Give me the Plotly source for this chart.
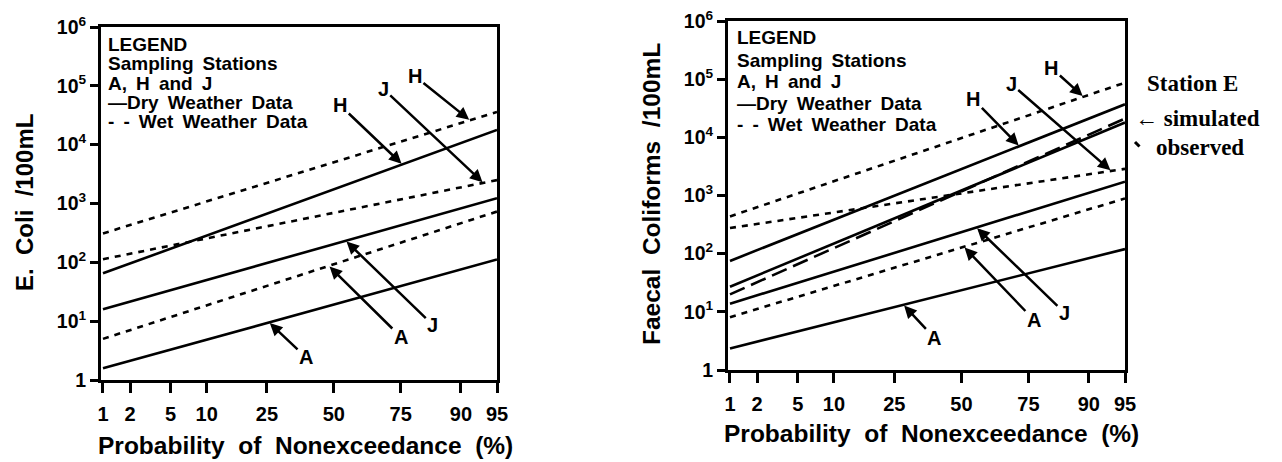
import math
from statistics import NormalDist
import plotly.graph_objects as go

nd = NormalDist()


def z(p):
    return nd.inv_cdf(p / 100.0)


# ---------------- data ----------------
prob_ticks = [1, 2, 5, 10, 25, 50, 75, 90, 95]
prob_tick_labels = ["1", "2", "5", "10", "25", "50", "75", "90", "95"]
y_tick_vals = [1, 10, 100, 1e3, 1e4, 1e5, 1e6]
y_tick_labels = ["1", "10<sup>1</sup>", "10<sup>2</sup>", "10<sup>3</sup>",
                 "10<sup>4</sup>", "10<sup>5</sup>", "10<sup>6</sup>"]

end_probs = [1, 95]  # probability (%) at the two ends of each fitted line

# E. coli (/100mL), stations A, H, J
ecoli_H_dry = [65, 17800]
ecoli_H_wet = [310, 36000]
ecoli_J_dry = [16, 1230]
ecoli_J_wet = [113, 2500]
ecoli_A_dry = [1.58, 112]
ecoli_A_wet = [5.0, 730]

# Faecal coliforms (/100mL), stations A, H, J and E
fc_H_dry = [75, 37000]
fc_H_wet = [437, 87000]
fc_J_dry = [13.8, 1730]
fc_J_wet = [276, 2870]
fc_A_dry = [2.34, 120]
fc_A_wet = [8.1, 890]
fc_E_sim = [27, 18000]
fc_E_obs = [20, 21000]

# page body has an 8px margin: the figure sits at (8, 8) in the window
OFF = 8
W, H = 1282 - OFF, 462 - OFF


def px(x):
    return (x - OFF) / W


def py(y):
    return 1 - (y - OFF) / H


def log_at(series, p):
    z0, z1 = z(end_probs[0]), z(end_probs[1])
    l0, l1 = math.log10(series[0]), math.log10(series[1])
    return l0 + (z(p) - z0) / (z1 - z0) * (l1 - l0)


def wide(s, extra="\u00a0"):
    return s.replace(" ", " " + extra)


FONT = "Liberation Sans"
fig = go.Figure()

WET = "6px,6px"
panels = [
    ("x", "y", [(ecoli_H_dry, "solid"), (ecoli_H_wet, WET), (ecoli_J_dry, "solid"),
                (ecoli_J_wet, WET), (ecoli_A_dry, "solid"), (ecoli_A_wet, WET)]),
    ("x2", "y2", [(fc_H_dry, "solid"), (fc_H_wet, WET), (fc_J_dry, "solid"),
                  (fc_J_wet, WET), (fc_A_dry, "solid"), (fc_A_wet, WET),
                  (fc_E_sim, "solid"), (fc_E_obs, "16px,7px")]),
]
for xa, ya, lines in panels:
    for vals, dash in lines:
        fig.add_trace(go.Scatter(
            x=[z(p) for p in end_probs], y=vals, mode="lines",
            line=dict(color="black", width=2.6, dash=dash),
            xaxis=xa, yaxis=ya, showlegend=False, hoverinfo="skip"))

xr = [z(1) - 0.02, z(95)]
axis_common = dict(showline=True, linewidth=3, linecolor="black", mirror=True,
                   showgrid=False, zeroline=False, ticks="outside",
                   tickwidth=3, tickcolor="black", automargin=False,
                   ticklabeloverflow="allow")

xcommon = dict(axis_common, range=xr, tickmode="array",
               tickvals=[z(p) for p in prob_ticks], ticktext=prob_tick_labels,
               ticklen=10, ticklabelstandoff=4,
               tickfont=dict(family=FONT, size=20, color="black", weight="bold"))
ycommon = dict(axis_common, type="log", range=[0, 6], tickmode="array",
               tickvals=y_tick_vals, ticktext=y_tick_labels, ticklen=8,
               tickfont=dict(family=FONT, size=19.5, color="black", weight="bold"))

fig.update_layout(
    width=W, height=H, margin=dict(l=0, r=0, t=0, b=0, autoexpand=False),
    paper_bgcolor="white", plot_bgcolor="white",
    xaxis=dict(xcommon, domain=[px(101), px(497)], anchor="y"),
    yaxis=dict(ycommon, domain=[py(380), py(27)], anchor="x"),
    xaxis2=dict(xcommon, domain=[px(728), px(1125)], anchor="y2"),
    yaxis2=dict(ycommon, domain=[py(370), py(21)], anchor="x2"),
)

ann = []


def txt(x, y, s, size=19, xanchor="left", angle=0, family=FONT, bold=True):
    ann.append(dict(x=px(x), y=py(y), xref="paper", yref="paper", text=s,
                    showarrow=False, xanchor=xanchor, yanchor="middle",
                    textangle=angle,
                    font=dict(family=family, size=size, color="black",
                              weight="bold" if bold else "normal")))


# legends
legend_lines = ["LEGEND", "Sampling Stations", "A, H and J",
                "\u2014Dry Weather Data", "- - Wet Weather Data"]
for x0, ys in [(106, [45, 64, 84, 103, 122]), (735, [38, 60, 81, 104, 124])]:
    for yy, s in zip(ys, legend_lines):
        txt(x0, yy, wide(s, "\u2009"))

# axis titles
title_x = wide("Probability of Nonexceedance (%)")
txt(305, 445, title_x, size=24.5, xanchor="center")
txt(931, 433, title_x, size=24.5, xanchor="center")
txt(24, 203, wide("E. Coli /100mL"), size=24, xanchor="center", angle=-90)
txt(651, 194, wide("Faecal Coliforms /100mL"), size=24.5, xanchor="center", angle=-90)

# Station E notes
txt(1145, 83, "Station E", size=23, family="Liberation Serif")
txt(1133, 118, "\u2190 simulated", size=23, family="Liberation Serif")
txt(1154, 147, "observed", size=23, family="Liberation Serif")
ann.append(dict(x=px(1135), y=py(142), xref="paper", yref="paper", text="",
                showarrow=True, ax=6, ay=6, arrowhead=0, arrowwidth=3,
                arrowcolor="black"))

# station labels with arrows: (series, prob at head, label, ax, ay, axes)
labels = [
    (ecoli_H_wet, 91.5, "H", -55, -44, "x", "y"),
    (ecoli_H_dry, 75.5, "H", -62, -59, "x", "y"),
    (ecoli_J_wet, 93.4, "J", -100, -94, "x", "y"),
    (ecoli_A_wet, 48, "A", 72, 71, "x", "y"),
    (ecoli_J_dry, 54.8, "J", 87, 84, "x", "y"),
    (ecoli_A_dry, 25.7, "A", 37, 35, "x", "y"),
    (fc_H_wet, 89, "H", -32, -29, "x2", "y2"),
    (fc_H_dry, 72, "H", -46, -47, "x2", "y2"),
    (fc_J_wet, 93.4, "J", -100, -87, "x2", "y2"),
    (fc_A_wet, 51, "A", 70, 73, "x2", "y2"),
    (fc_J_dry, 56, "J", 88, 85, "x2", "y2"),
    (fc_A_dry, 28, "A", 31, 33, "x2", "y2"),
]
for series, p, lab, ax, ay, xa, ya in labels:
    ann.append(dict(x=z(p), y=log_at(series, p), xref=xa, yref=ya, text=lab,
                    showarrow=True, ax=ax, ay=ay, arrowhead=2, arrowsize=1,
                    arrowwidth=2.5, arrowcolor="black", standoff=1,
                    font=dict(family=FONT, size=20, color="black", weight="bold")))

fig.update_layout(annotations=ann)
fig.write_html("out.html")
